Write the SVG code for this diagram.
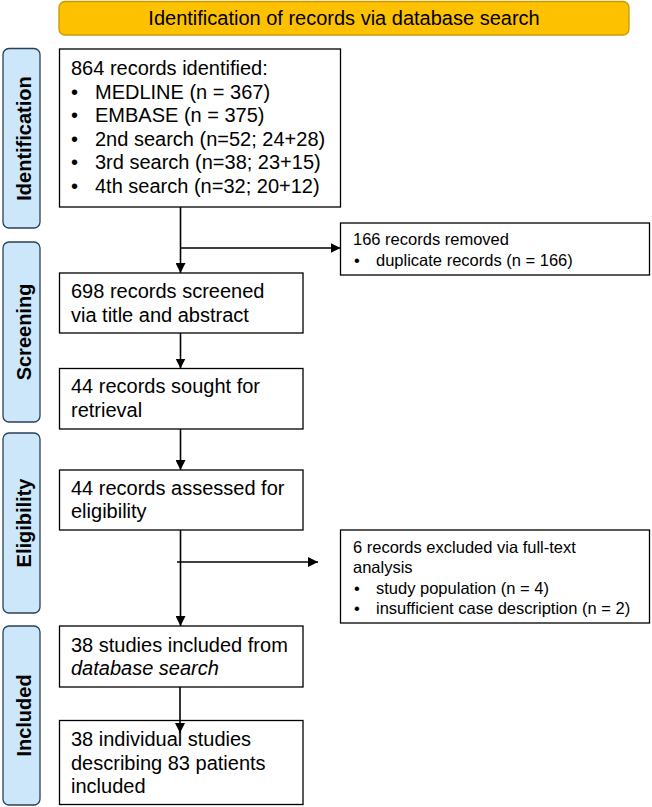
<svg xmlns="http://www.w3.org/2000/svg" width="652" height="807" viewBox="0 0 652 807">
<defs>
<marker id="ah" markerWidth="10" markerHeight="10" refX="10" refY="5" orient="auto" markerUnits="userSpaceOnUse">
<path d="M0,0 L10,5 L0,10 Z" fill="#000"/>
</marker>
<style>
.box{fill:#fff;stroke:#000;stroke-width:1.3}
.side{fill:#CDE7FA;stroke:#2b3f55;stroke-width:1.3}
.t{font-family:"Liberation Sans",Arial,sans-serif;font-size:20px;fill:#000}
.s{font-family:"Liberation Sans",Arial,sans-serif;font-size:16.5px;fill:#000}
.lab{font-family:"Liberation Sans",Arial,sans-serif;font-size:20px;font-weight:bold;fill:#000}
.ln{stroke:#000;stroke-width:1.6;fill:none}
</style>
</defs>
<g id="banner">
<rect x="59" y="1.5" width="570" height="33.5" rx="6" fill="#FDC100" stroke="#C89A00" stroke-width="1.3"/>
<text class="t" x="344" y="25" text-anchor="middle">Identification of records via database search</text>
</g>
<g id="side-identification">
<rect class="side" x="3" y="48.5" width="37" height="179.5" rx="6"/>
<text class="lab" transform="translate(30.5,138.5) rotate(-90)" text-anchor="middle">Identification</text>
</g>
<g id="side-screening">
<rect class="side" x="3" y="242" width="37" height="180" rx="6"/>
<text class="lab" transform="translate(30.5,332) rotate(-90)" text-anchor="middle">Screening</text>
</g>
<g id="side-eligibility">
<rect class="side" x="3" y="433" width="37" height="180" rx="6"/>
<text class="lab" transform="translate(30.5,523) rotate(-90)" text-anchor="middle">Eligibility</text>
</g>
<g id="side-included">
<rect class="side" x="3" y="626" width="37" height="179" rx="6"/>
<text class="lab" transform="translate(30.5,715.5) rotate(-90)" text-anchor="middle">Included</text>
</g>
<g id="n-identified">
<rect class="box" x="59.5" y="49" width="281" height="158"/>
<text class="t" x="71" y="75">864 records identified:</text>
<text class="t" x="71" y="98.5">•</text><text class="t" x="95" y="98.5">MEDLINE (n = 367)</text>
<text class="t" x="71" y="122">•</text><text class="t" x="95" y="122">EMBASE (n = 375)</text>
<text class="t" x="71" y="145.5">•</text><text class="t" x="95" y="145.5">2nd search (n=52; 24+28)</text>
<text class="t" x="71" y="169">•</text><text class="t" x="95" y="169">3rd search (n=38; 23+15)</text>
<text class="t" x="71" y="192.5">•</text><text class="t" x="95" y="192.5">4th search (n=32; 20+12)</text>
</g>
<g id="n-removed">
<rect class="box" x="340.5" y="223" width="309" height="52"/>
<text class="s" x="353" y="245">166 records removed</text>
<text class="s" x="354" y="266">•</text><text class="s" x="376" y="266">duplicate records (n = 166)</text>
</g>
<g id="n-screened">
<rect class="box" x="59.5" y="273" width="243.5" height="60"/>
<text class="t" x="71" y="298">698 records screened</text>
<text class="t" x="71" y="322">via title and abstract</text>
</g>
<g id="n-sought">
<rect class="box" x="59.5" y="368.5" width="243.5" height="60.5"/>
<text class="t" x="71" y="393">44 records sought for</text>
<text class="t" x="71" y="417">retrieval</text>
</g>
<g id="n-assessed">
<rect class="box" x="59.5" y="470" width="243.5" height="60"/>
<text class="t" x="71" y="494.5">44 records assessed for</text>
<text class="t" x="71" y="518">eligibility</text>
</g>
<g id="n-excluded">
<rect class="box" x="340.5" y="530" width="309" height="93"/>
<text class="s" x="353" y="553">6 records excluded via full-text</text>
<text class="s" x="353" y="573">analysis</text>
<text class="s" x="354" y="594">•</text><text class="s" x="376" y="594">study population (n = 4)</text>
<text class="s" x="354" y="614">•</text><text class="s" x="376" y="614">insufficient case description (n = 2)</text>
</g>
<g id="n-included">
<rect class="box" x="59.5" y="626" width="243.5" height="61"/>
<text class="t" x="71" y="652">38 studies included from</text>
<text class="t" x="71" y="675" font-style="italic">database search</text>
</g>
<g id="n-patients">
<rect class="box" x="59.5" y="720.5" width="243.5" height="84"/>
<text class="t" x="71" y="746">38 individual studies</text>
<text class="t" x="71" y="769.5">describing 83 patients</text>
<text class="t" x="71" y="793">included</text>
</g>
<g id="connectors">
<line class="ln" x1="180.5" y1="207" x2="180.5" y2="273" marker-end="url(#ah)"/>
<line class="ln" x1="180.5" y1="248" x2="340.5" y2="248" marker-end="url(#ah)"/>
<line class="ln" x1="180.5" y1="333" x2="180.5" y2="368.5" marker-end="url(#ah)"/>
<line class="ln" x1="180.5" y1="429" x2="180.5" y2="470" marker-end="url(#ah)"/>
<line class="ln" x1="180.5" y1="530" x2="180.5" y2="626" marker-end="url(#ah)"/>
<line class="ln" x1="177" y1="562" x2="318" y2="562" marker-end="url(#ah)"/>
<line class="ln" x1="180" y1="687" x2="180" y2="733" marker-end="url(#ah)"/>
</g>
</svg>
